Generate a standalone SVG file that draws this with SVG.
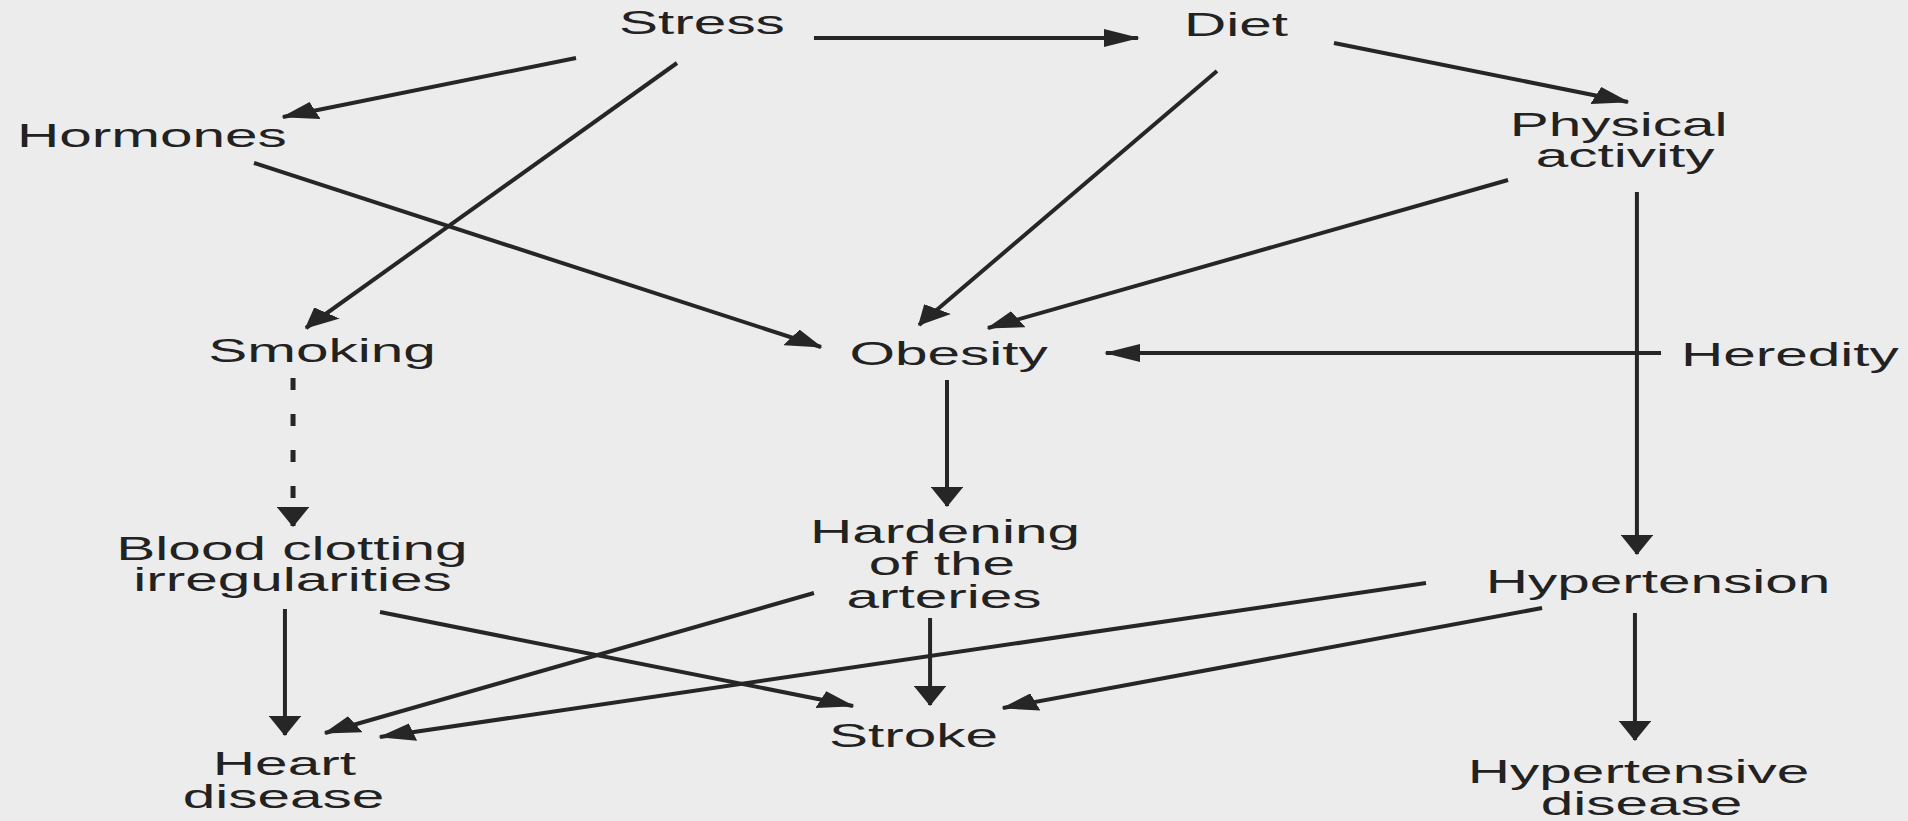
<svg xmlns="http://www.w3.org/2000/svg" width="1908" height="821" viewBox="0 0 1908 821">
<defs>
<style>
.t{font-family:"Liberation Sans",Arial,sans-serif;font-size:32.5px;fill:#222;text-anchor:middle}
.c line{stroke:#262626;stroke-width:4;vector-effect:non-scaling-stroke;marker-end:url(#ah)}
.c line.d{stroke-dasharray:12 24;stroke-width:5}
</style>
<marker id="ah" viewBox="0 0 20 18" refX="19" refY="9" markerWidth="20" markerHeight="18" markerUnits="userSpaceOnUse" orient="auto">
<path d="M0,0 L20,9 L0,18 z" fill="#262626"/>
</marker>
</defs>
<rect width="1908" height="821" fill="#ececec"/>
<g transform="scale(1.8,1)">
<g id="connectors" class="c">
<line x1="452.2" y1="38" x2="632.2" y2="38"/>
<line x1="320" y1="58" x2="157.2" y2="117"/>
<line x1="376.1" y1="63" x2="170" y2="328"/>
<line x1="141.1" y1="163" x2="456.1" y2="347"/>
<line x1="741.1" y1="43" x2="904.4" y2="102"/>
<line x1="676.1" y1="71" x2="510.6" y2="325"/>
<line x1="837.8" y1="180" x2="548.9" y2="328"/>
<line x1="909.4" y1="192" x2="909.4" y2="554"/>
<line x1="922.8" y1="353" x2="614.4" y2="353"/>
<line class="d" x1="162.8" y1="378" x2="162.8" y2="526"/>
<line x1="526.1" y1="380" x2="526.1" y2="506"/>
<line x1="158.3" y1="609" x2="158.3" y2="735"/>
<line x1="211.1" y1="612" x2="473.9" y2="706"/>
<line x1="452.2" y1="593" x2="180.6" y2="733"/>
<line x1="516.7" y1="618" x2="516.7" y2="705"/>
<line x1="792.2" y1="583" x2="211.1" y2="737"/>
<line x1="856.7" y1="608" x2="557.2" y2="708"/>
<line x1="908.3" y1="613" x2="908.3" y2="740"/>
</g>
<g id="stress"><text class="t" x="390" y="34">Stress</text></g>
<g id="diet"><text class="t" x="686.7" y="36">Diet</text></g>
<g id="hormones"><text class="t" x="84.4" y="147">Hormones</text></g>
<g id="physical-activity"><text class="t"><tspan x="899.2" y="136">Physical</tspan><tspan x="902.8" y="167">activity</tspan></text></g>
<g id="smoking"><text class="t" x="178.9" y="362">Smoking</text></g>
<g id="obesity"><text class="t" x="527" y="365">Obesity</text></g>
<g id="heredity"><text class="t" x="994.4" y="366">Heredity</text></g>
<g id="blood-clotting"><text class="t"><tspan x="162.2" y="560">Blood clotting</tspan><tspan x="162.5" y="591">irregularities</tspan></text></g>
<g id="hardening"><text class="t"><tspan x="525" y="543">Hardening</tspan><tspan x="523.3" y="575">of the</tspan><tspan x="524.4" y="608">arteries</tspan></text></g>
<g id="hypertension"><text class="t" x="921.1" y="593">Hypertension</text></g>
<g id="stroke"><text class="t" x="507.5" y="747">Stroke</text></g>
<g id="heart-disease"><text class="t"><tspan x="158" y="775">Heart</tspan><tspan x="157.5" y="808">disease</tspan></text></g>
<g id="hypertensive-disease"><text class="t"><tspan x="910.3" y="783">Hypertensive</tspan><tspan x="912" y="815">disease</tspan></text></g>
</g>
</svg>
